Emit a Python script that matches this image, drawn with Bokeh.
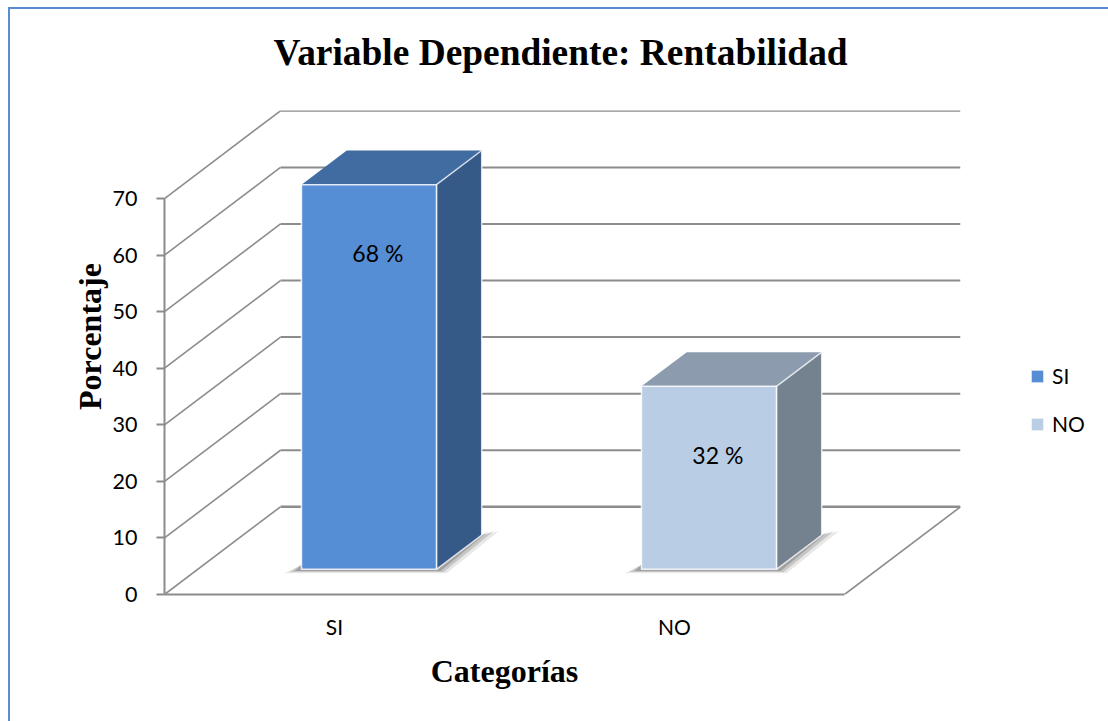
from bokeh.plotting import figure
from bokeh.models import Range1d, FixedTicker, Legend, LegendItem, ColumnDataSource, Label
from bokeh.core.properties import value
from bokeh.embed import file_html
from bokeh.resources import INLINE

categories = ["SI", "NO"]
values = [68, 32.35]
bar_labels = ["68 %", "32 %"]
y_ticks = [0, 10, 20, 30, 40, 50, 60, 70]
front_colors = ["#558ed5", "#b9cde5"]
top_colors = ["#406ca1", "#8c9bae"]
side_colors = ["#365a87", "#748290"]
chart_title = "Variable Dependiente: Rentabilidad"
x_title = "Categorías"
y_title = "Porcentaje"

DX, DY = 116 / 340, 15.5      # oblique offset of the back wall (category units, value units)
Z0, Z1 = 0.287, 0.677         # bar depth span
B0, B1 = 0.305, 0.702         # bar span within a category
GRID = "#8c8c8c"

def proj(x, v, z):
    return x + z * DX, v + z * DY

p = figure(width=1098, height=712, frame_width=796, frame_height=484,
           output_backend="svg", toolbar_location=None,
           x_range=Range1d(0, 796 / 340), y_range=Range1d(0, 85.56),
           min_border_left=154, min_border_right=148, min_border_top=101, min_border_bottom=127,
           outline_line_color=None, background_fill_color="white", border_fill_color="white")
p.styles = {"border-left": "2px solid #5b8bd3", "border-top": "2px solid #5b8bd3",
            "margin-top": "7px", "margin-left": "8px"}
p.grid.visible = False

ya = p.yaxis[0]
ya.ticker = FixedTicker(ticks=y_ticks)
ya.bounds = (0, 70)
ya.axis_line_color = GRID
ya.axis_line_width = 2
ya.major_tick_line_color = GRID
ya.major_tick_line_width = 2
ya.major_tick_out = 8
ya.major_tick_in = 0
ya.minor_tick_line_color = None
ya.major_label_text_font = "Lato"
ya.major_label_text_font_size = "21.5px"
ya.major_label_text_color = "black"
ya.major_label_standoff = 19

xa = p.xaxis[0]
xa.ticker = FixedTicker(ticks=[i + 0.5 for i in range(len(categories))])
xa.major_label_overrides = {i + 0.5: c for i, c in enumerate(categories)}
xa.bounds = (0, 2)
xa.axis_line_color = GRID
xa.axis_line_width = 2
xa.major_tick_line_color = None
xa.minor_tick_line_color = None
xa.major_label_text_font = "Lato"
xa.major_label_text_font_size = "21px"
xa.major_label_text_color = "black"
xa.major_label_standoff = 13

# titles: placed on the panels so that they can sit off-centre like the reference
p.add_layout(Label(x=1.165, y=95.8, text=chart_title, text_font="Liberation Serif",
                   text_font_size="37.4px", text_font_style="bold", text_color="black",
                   text_align="center", text_baseline="middle"), "above")
p.add_layout(Label(x=1.0, y=-13.6, text=x_title, text_font="Liberation Serif", text_font_size="32px",
                   text_font_style="bold", text_color="black", text_align="center",
                   text_baseline="middle"), "below")
p.add_layout(Label(x=-0.218, y=45.6, text=y_title, angle=90, angle_units="deg",
                   text_font="Liberation Serif", text_font_size="32px", text_font_style="bold",
                   text_color="black", text_align="center", text_baseline="middle"), "left")

# walls: one oblique side line and one back line for each tick
for v in y_ticks:
    ax, ay = proj(0, v, 0)
    bx, by = proj(0, v, 1)
    cx, cy = proj(2, v, 1)
    p.line([ax, bx], [ay, by], line_color=GRID, line_width=1.6)
    p.line([bx, cx], [by, cy], line_color=GRID, line_width=2.5 if v == 0 else 2)
fx, fy = proj(2, 0, 0)
gx, gy = proj(2, 0, 1)
p.line([fx, gx], [fy, gy], line_color=GRID, line_width=1.6)

legend_items = []
for i, (cat, val) in enumerate(zip(categories, values)):
    x0, x1 = i + B0, i + B1
    # soft shadow on the floor
    for grow, alpha in ((1.0, 0.12), (0.7, 0.2), (0.4, 0.28)):
        sx0, sy0 = proj(x0, 0, Z0)
        sx1, sy1 = proj(x1, 0, Z0)
        sx2, sy2 = proj(x1, 0, Z1)
        p.patch([sx0 - 0.05 * grow, sx0, sx1, sx2, sx2 + 0.05 * grow, sx1 + 0.03 * grow, sx0],
                [sy0 - 0.7 * grow, sy0 + 0.8, sy0 + 0.8, sy2, sy2 + 0.7, sy1 - 0.7 * grow, sy0 - 0.7 * grow],
                fill_color="#404040", fill_alpha=alpha, line_color=None)
    # top face
    pts = [proj(x0, val, Z0), proj(x1, val, Z0), proj(x1, val, Z1), proj(x0, val, Z1)]
    p.patch([a for a, _ in pts], [b for _, b in pts], fill_color=top_colors[i],
            line_color="white", line_alpha=0.0)
    # side face
    pts = [proj(x1, 0, Z0), proj(x1, 0, Z1), proj(x1, val, Z1), proj(x1, val, Z0)]
    p.patch([a for a, _ in pts], [b for _, b in pts], fill_color=side_colors[i],
            line_color="white", line_alpha=0.75, line_width=1.5)
    # front face
    lx, bottom = proj(x0, 0, Z0)
    rx, top = proj(x1, val, Z0)
    src = ColumnDataSource(dict(left=[lx], right=[rx], top=[top], bottom=[bottom]))
    r = p.quad(left="left", right="right", top="top", bottom="bottom", source=src,
               fill_color=front_colors[i], line_color="white", line_alpha=0.8, line_width=1.5)
    legend_items.append(LegendItem(label=cat, renderers=[r]))
    # value label
    p.text([(lx + rx) / 2 + 0.026], [top - 12.1], text=[bar_labels[i]], text_font=value("Lato"),
           text_font_size="23px", text_align="center", text_baseline="middle", text_color="black")

legend = Legend(items=legend_items, location=(69, 158), orientation="vertical",
                background_fill_alpha=0, border_line_color=None, padding=0, margin=0,
                glyph_width=16, glyph_height=16, label_standoff=7, spacing=23,
                label_text_font="Lato", label_text_font_size="21px", label_text_color="black",
                label_height=20)
p.add_layout(legend, "right")

open("out.html", "w").write(file_html(p, INLINE))
